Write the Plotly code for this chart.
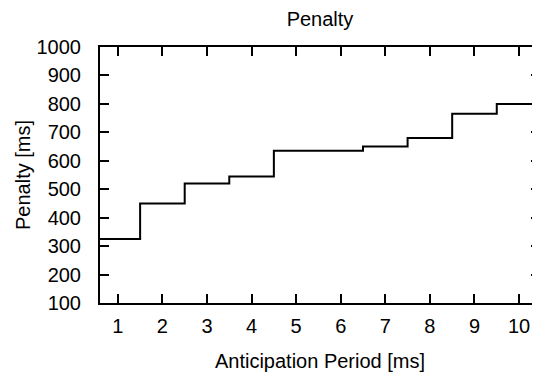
import plotly.graph_objects as go

periods = [1, 2, 3, 4, 5, 6, 7, 8, 9, 10]
penalty = [325, 450, 520, 545, 635, 635, 650, 680, 765, 800]

# histogram-step edges (half a step beyond the first and last period)
xs = [periods[0] - 0.5] + periods + [periods[-1] + 0.5]
ys = [penalty[0]] + penalty + [penalty[-1]]

FONT = "Liberation Sans, Arial, sans-serif"
FS = 20

fig = go.Figure()
fig.add_trace(go.Scatter(x=xs, y=ys, mode="lines", line=dict(color="black", width=2, shape="hvh"),
                         showlegend=False, hoverinfo="skip"))

# page body has an 8px margin; figure sized to fill the rest of the 540x372 window
fig.update_layout(
    width=532, height=364,
    margin=dict(l=92, r=0, t=39, b=69, autoexpand=False),
    paper_bgcolor="white", plot_bgcolor="white",
    font=dict(family=FONT, size=FS, color="black"),
    title=dict(text="Penalty", x=0.5, xref="paper", xanchor="center",
               y=0.99, yref="container", yanchor="top", pad=dict(t=0, b=0),
               font=dict(family=FONT, size=FS, color="black")),
    xaxis=dict(range=[0.6, 10.47], tickmode="array", tickvals=periods,
               ticks="inside", ticklen=9, tickwidth=1.5, tickcolor="black",
               showline=True, linecolor="black", linewidth=2, mirror="ticks",
               showgrid=False, zeroline=False, automargin=False,
               ticklabelstandoff=4,
               title=dict(text="Anticipation Period [ms]", standoff=19,
                          font=dict(family=FONT, size=FS)),
               tickfont=dict(family=FONT, size=FS)),
    yaxis=dict(range=[100, 1000], tickmode="linear", tick0=100, dtick=100,
               ticks="inside", ticklen=9, tickwidth=1.5, tickcolor="black",
               showline=True, linecolor="black", linewidth=2, mirror="ticks",
               showgrid=False, zeroline=False, automargin=False,
               ticklabelstandoff=13,
               title=dict(text="Penalty [ms]", standoff=1,
                          font=dict(family=FONT, size=FS)),
               tickfont=dict(family=FONT, size=FS)),
)

fig.write_html("out.html")
